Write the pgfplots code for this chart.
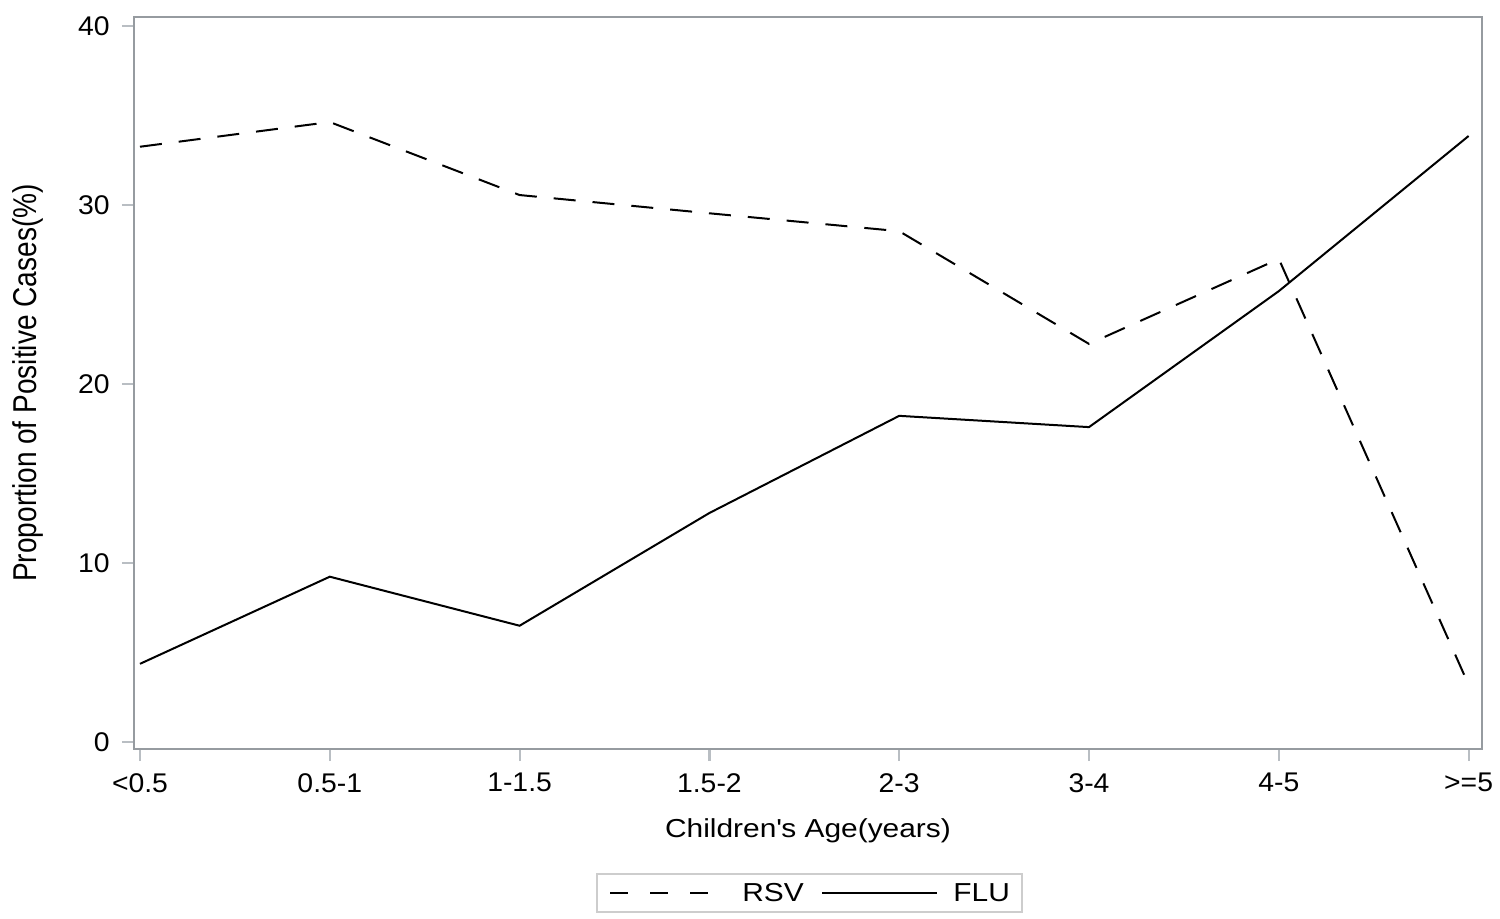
\documentclass[border=0pt]{standalone}
\usepackage{pgfplots}
\pgfplotsset{compat=1.18}
\usepackage{fontspec}
\setmainfont{Liberation Sans}[FakeStretch=1.15]
\newfontfamily\tickfont{Liberation Sans}[FakeStretch=1.05]
\newfontfamily\ylabfont{Liberation Sans}[FakeStretch=0.85]
\definecolor{axgray}{RGB}{150,155,160}
\definecolor{tkgray}{RGB}{185,190,195}
\definecolor{lggray}{RGB}{205,205,205}
\begin{document}
\begin{tikzpicture}
\path[use as bounding box] (-67pt,-84.5pt) rectangle (683pt,374.5pt);
\begin{axis}[
  at={(0pt,0pt)}, anchor=south west,
  scale only axis, width=674pt, height=366pt,
  xmin=-0.0316, xmax=7.0706, ymin=-0.39, ymax=40.52,
  xtick={0,1,2,3,4,5,6,7},
  xticklabels={{<0.5},{0.5-1},{1-1.5},{1.5-2},{2-3},{3-4},{4-5},{>=5}},
  ytick={0,10,20,30,40},
  axis line style={axgray, line width=1.1pt},
  tick align=outside, tick pos=left,
  major tick length=6pt,
  tick style={tkgray, line width=1.1pt},
  tick label style={font=\tickfont\fontsize{13.5}{16}\selectfont},
  /pgf/number format/assume math mode=true,
  xticklabel style={anchor=north, inner sep=0pt, yshift=-6pt},
  yticklabel style={anchor=east, inner sep=0pt, xshift=-6pt},
  xlabel={Children\textquotesingle s Age(years)},
  ylabel={Proportion of Positive Cases(\%)},
  xlabel style={font=\fontsize{13}{15}\selectfont, at={(axis description cs:0.5,-0.09426)}, anchor=north, inner sep=0pt},
  ylabel style={font=\ylabfont\fontsize{16.5}{18}\selectfont, at={(axis description cs:-0.0905,0.5)}, anchor=north, inner sep=0pt},
]
\addplot[black, line width=1pt, dash pattern=on 11pt off 8.5pt] coordinates {(0,33.27) (1,34.65) (2,30.57) (3,29.55) (4,28.55) (5,22.25) (6,27.0) (7,3.2)};
\addplot[black, line width=1pt] coordinates {(0,4.37) (1,9.24) (2,6.5) (3,12.8) (4,18.23) (5,17.6) (6,25.2) (7,33.87)};
\end{axis}
\draw[lggray, line width=1pt] (231.5pt,-62.5pt) rectangle (444pt,-81.5pt);
\draw[black, line width=1pt, dash pattern=on 9pt off 11pt] (238pt,-72pt) -- (287pt,-72pt);
\node[anchor=west, inner sep=0pt, font=\fontsize{13}{15}\selectfont] at (304pt,-72pt) {RSV};
\draw[black, line width=1pt] (344pt,-72pt) -- (401.5pt,-72pt);
\node[anchor=west, inner sep=0pt, font=\fontsize{13}{15}\selectfont] at (409.5pt,-72pt) {FLU};
\end{tikzpicture}
\end{document}
